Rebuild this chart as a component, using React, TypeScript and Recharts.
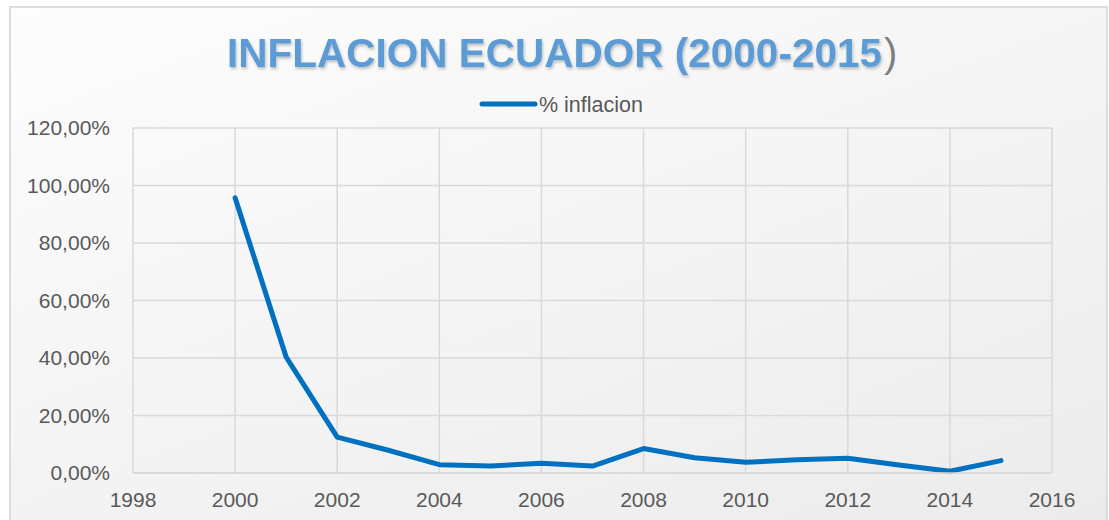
import React from 'react';
import { LineChart, Line, XAxis, YAxis, CartesianGrid } from 'recharts';

const years = [2000, 2001, 2002, 2003, 2004, 2005, 2006, 2007, 2008, 2009, 2010, 2011, 2012, 2013, 2014, 2015];
const inflation = [95.7, 40.3, 12.5, 7.9, 2.9, 2.4, 3.4, 2.4, 8.5, 5.3, 3.7, 4.6, 5.1, 2.8, 0.6, 4.3];
const xTicks = [1998, 2000, 2002, 2004, 2006, 2008, 2010, 2012, 2014, 2016];
const yTicks = [0, 20, 40, 60, 80, 100, 120];

const seriesName = '% inflacion';
const titleMain = 'INFLACION ECUADOR (2000-2015';
const titleEnd = ')';

const FONT = '"Liberation Sans", Arial, sans-serif';
const LINE_COLOR = '#0070c0';
const TEXT_COLOR = '#595959';
const GRID_COLOR = '#d9d9d9';

const data = years.map((year, i) => ({ year, value: inflation[i] }));

const formatPct = (v: number) => v.toFixed(2).replace('.', ',') + '%';

const App: React.FC = () => {
  return (
    <div
      style={{
        position: 'absolute',
        left: 0,
        top: 0,
        width: 1109,
        height: 520,
        background: '#ffffff',
        overflow: 'hidden',
      }}
    >
      <div
        style={{
          position: 'absolute',
          left: 9,
          top: 6,
          width: 1095,
          height: 530,
          border: '2px solid #dcdcdc',
          background: 'linear-gradient(160deg, #fdfdfd 0%, #f4f4f4 50%, #ebebeb 100%)',
        }}
      />
      <svg width={1109} height={120} style={{ position: 'absolute', left: 0, top: 0 }}>
        <defs>
          <filter id="ts" x="-5%" y="-20%" width="110%" height="150%">
            <feDropShadow dx={1} dy={2} stdDeviation={1.5} floodColor="#000" floodOpacity={0.25} />
          </filter>
        </defs>
        <text
          x={227}
          y={67}
          textLength={655}
          lengthAdjust="spacingAndGlyphs"
          fontFamily={FONT}
          fontWeight="bold"
          fontSize={40}
          fill="#5b9bd5"
          filter="url(#ts)"
        >
          {titleMain}
        </text>
        <text x={884} y={67} fontFamily={FONT} fontSize={40} fill="#7f7f7f">
          {titleEnd}
        </text>
        {/* legend */}
        <line x1={482} y1={104} x2={535} y2={104} stroke={LINE_COLOR} strokeWidth={5} strokeLinecap="round" />
        <text x={539} y={112} fontFamily={FONT} fontSize={21.5} fill={TEXT_COLOR}>
          {seriesName}
        </text>
      </svg>
      <div style={{ position: 'absolute', left: 0, top: 0 }}>
        <LineChart width={1109} height={520} data={data} margin={{ top: 128, right: 57, left: 0, bottom: 0 }}>
          <CartesianGrid stroke={GRID_COLOR} strokeWidth={1.5} />
          <XAxis
            dataKey="year"
            type="number"
            domain={[1998, 2016]}
            ticks={xTicks}
            height={47}
            tickLine={false}
            tickSize={0}
            tickMargin={19}
            axisLine={{ stroke: GRID_COLOR, strokeWidth: 1.5 }}
            tick={{ fill: TEXT_COLOR, fontFamily: FONT, fontSize: 21 }}
            interval={0}
          />
          <YAxis
            type="number"
            domain={[0, 120]}
            ticks={yTicks}
            width={133}
            tickLine={false}
            axisLine={false}
            tickSize={0}
            tickMargin={23}
            tickFormatter={formatPct}
            tick={{ fill: TEXT_COLOR, fontFamily: FONT, fontSize: 21 }}
            interval={0}
          />
          <Line
            type="linear"
            dataKey="value"
            name={seriesName}
            stroke={LINE_COLOR}
            strokeWidth={5}
            strokeLinecap="round"
            strokeLinejoin="round"
            dot={false}
            activeDot={false}
            isAnimationActive={false}
          />
        </LineChart>
      </div>
    </div>
  );
};

export default App;
